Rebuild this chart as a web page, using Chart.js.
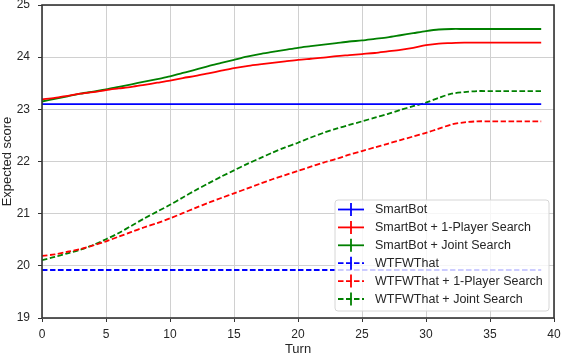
<!DOCTYPE html>
<html>
<head>
<meta charset="utf-8">
<script src="https://cdn.jsdelivr.net/npm/chart.js@4.4.0/dist/chart.umd.min.js"></script>
<style>
    html, body { margin: 0; padding: 0; background: #fff; }
    #wrap { width: 562px; height: 354px; }
</style>
</head>
<body>
<div id="wrap"><canvas id="chart"></canvas></div>
<script>
// Turn index (x) and expected score per series
const turns = [0, 1, 2, 3, 4, 5, 6, 7, 8, 9, 10, 11, 12, 13, 14, 15, 16, 17, 18, 19,
    20, 21, 22, 23, 24, 25, 26, 27, 28, 29, 30, 31, 32, 33, 34, 35, 36, 37, 38, 39];

const smartBot = [23.1, 23.1, 23.1, 23.1, 23.1, 23.1, 23.1, 23.1, 23.1, 23.1,
    23.1, 23.1, 23.1, 23.1, 23.1, 23.1, 23.1, 23.1, 23.1, 23.1,
    23.1, 23.1, 23.1, 23.1, 23.1, 23.1, 23.1, 23.1, 23.1, 23.1,
    23.1, 23.1, 23.1, 23.1, 23.1, 23.1, 23.1, 23.1, 23.1, 23.1];

const smartBot1P = [23.19, 23.22, 23.26, 23.30, 23.33, 23.37, 23.40, 23.43, 23.47, 23.51,
    23.55, 23.60, 23.64, 23.69, 23.74, 23.79, 23.83, 23.86, 23.89, 23.92,
    23.95, 23.97, 23.99, 24.02, 24.04, 24.06, 24.08, 24.11, 24.14, 24.18,
    24.23, 24.26, 24.27, 24.28, 24.28, 24.28, 24.28, 24.28, 24.28, 24.28];

const smartBotJoint = [23.15, 23.20, 23.25, 23.30, 23.34, 23.38, 23.43, 23.48, 23.53, 23.58,
    23.63, 23.70, 23.76, 23.83, 23.89, 23.95, 24.01, 24.06, 24.10, 24.14,
    24.18, 24.21, 24.24, 24.27, 24.30, 24.32, 24.35, 24.38, 24.42, 24.46,
    24.50, 24.53, 24.54, 24.54, 24.54, 24.54, 24.54, 24.54, 24.54, 24.54];

const wtfwThat = [19.92, 19.92, 19.92, 19.92, 19.92, 19.92, 19.92, 19.92, 19.92, 19.92,
    19.92, 19.92, 19.92, 19.92, 19.92, 19.92, 19.92, 19.92, 19.92, 19.92,
    19.92, 19.92, 19.92, 19.92, 19.92, 19.92, 19.92, 19.92, 19.92, 19.92,
    19.92, 19.92, 19.92, 19.92, 19.92, 19.92, 19.92, 19.92, 19.92, 19.92];

const wtfwThat1P = [20.19, 20.22, 20.27, 20.32, 20.39, 20.47, 20.56, 20.65, 20.74, 20.82,
    20.91, 21.01, 21.11, 21.21, 21.30, 21.39, 21.48, 21.57, 21.66, 21.74,
    21.82, 21.90, 21.98, 22.05, 22.13, 22.20, 22.27, 22.34, 22.41, 22.48,
    22.55, 22.63, 22.71, 22.75, 22.77, 22.77, 22.77, 22.77, 22.77, 22.77];

const wtfwThatJoint = [20.11, 20.17, 20.24, 20.31, 20.40, 20.51, 20.63, 20.77, 20.91, 21.04,
    21.17, 21.31, 21.45, 21.58, 21.71, 21.83, 21.95, 22.06, 22.17, 22.27,
    22.36, 22.46, 22.55, 22.63, 22.70, 22.77, 22.84, 22.91, 22.99, 23.06,
    23.13, 23.22, 23.30, 23.33, 23.35, 23.35, 23.35, 23.35, 23.35, 23.35];

const xTicks = [0, 5, 10, 15, 20, 25, 30, 35, 40];
const yTicks = [19, 20, 21, 22, 23, 24, 25];

const FONT = "'Liberation Sans', Arial, sans-serif";
const DASH = [5.5, 2.5];

function toPoints(values) {
    return turns.map((t, i) => ({ x: t, y: values[i] }));
}

function makeSeries(label, values, color, dashed) {
    return {
        label: label,
        data: toPoints(values),
        borderColor: color,
        backgroundColor: color,
        borderWidth: 1.8,
        borderDash: dashed ? DASH : [],
        pointRadius: 0,
        tension: 0.3,
        fill: false
    };
}

// Dark frame on all four sides of the plot area
const frame = {
    id: 'frame',
    afterDatasetsDraw(chart) {
        const { ctx, chartArea: a } = chart;
        ctx.save();
        ctx.strokeStyle = '#333';
        ctx.lineWidth = 1.6;
        ctx.strokeRect(a.left, a.top, a.right - a.left, a.bottom - a.top);
        ctx.restore();
    }
};

// Legend in the lower right corner, markers drawn as line + error-bar tick
const cornerLegend = {
    id: 'cornerLegend',
    afterDraw(chart) {
        const { ctx, chartArea: a } = chart;
        const w = 214, h = 111;
        const x0 = a.right - 5 - w;
        const y0 = a.bottom - 7 - h;

        ctx.save();
        ctx.beginPath();
        ctx.roundRect(x0, y0, w, h, 3);
        ctx.fillStyle = 'rgba(255,255,255,0.8)';
        ctx.fill();
        ctx.strokeStyle = '#d6d6d6';
        ctx.lineWidth = 1;
        ctx.stroke();

        ctx.font = '12.5px ' + FONT;
        ctx.textBaseline = 'middle';
        chart.data.datasets.forEach((ds, i) => {
            const y = y0 + 9.5 + i * 17.9;
            const lx0 = x0 + 3, lx1 = x0 + 29, mid = x0 + 16;
            ctx.strokeStyle = ds.borderColor;
            ctx.lineWidth = ds.borderWidth;
            ctx.setLineDash(ds.borderDash);
            ctx.beginPath();
            ctx.moveTo(lx0, y);
            ctx.lineTo(lx1, y);
            ctx.stroke();
            ctx.setLineDash([]);
            ctx.beginPath();
            ctx.moveTo(mid, y - 6.5);
            ctx.lineTo(mid, y + 6.5);
            ctx.stroke();
            ctx.fillStyle = '#262626';
            ctx.fillText(ds.label, x0 + 40, y + 0.5);
        });
        ctx.restore();
    }
};

const ctx = document.getElementById('chart');

new Chart(ctx, {
    type: 'line',
    data: {
        datasets: [
            makeSeries('SmartBot', smartBot, '#0000ff', false),
            makeSeries('SmartBot + 1-Player Search', smartBot1P, '#ff0000', false),
            makeSeries('SmartBot + Joint Search', smartBotJoint, '#008000', false),
            makeSeries('WTFWThat', wtfwThat, '#0000ff', true),
            makeSeries('WTFWThat + 1-Player Search', wtfwThat1P, '#ff0000', true),
            makeSeries('WTFWThat + Joint Search', wtfwThatJoint, '#008000', true)
        ]
    },
    options: {
        responsive: true,
        maintainAspectRatio: false,
        animation: false,
        layout: { padding: { top: 5, right: 8, left: 0, bottom: 0 } },
        plugins: {
            legend: { display: false },
            tooltip: { enabled: false }
        },
        scales: {
            x: {
                type: 'linear',
                min: 0,
                max: 40,
                afterBuildTicks: (scale) => { scale.ticks = xTicks.map(v => ({ value: v })); },
                afterFit: (scale) => {
                    scale.height = 36;
                    scale.paddingLeft = 0;
                    scale.paddingRight = 0;
                },
                ticks: { color: '#262626', font: { family: FONT, size: 12 }, padding: 5 },
                grid: { color: '#d0d0d0', lineWidth: 1, tickColor: '#333', tickLength: 4 },
                border: { display: false },
                title: {
                    display: true,
                    text: 'Turn',
                    color: '#262626',
                    font: { family: FONT, size: 13 },
                    padding: { top: 0, bottom: -3 }
                }
            },
            y: {
                min: 19,
                max: 25,
                afterBuildTicks: (scale) => { scale.ticks = yTicks.map(v => ({ value: v })); },
                afterFit: (scale) => {
                    scale.width = 42;
                    scale.paddingTop = 0;
                    scale.paddingBottom = 0;
                },
                ticks: { color: '#262626', font: { family: FONT, size: 12 }, padding: 8 },
                grid: { color: '#d0d0d0', lineWidth: 1, tickColor: '#333', tickLength: 4 },
                border: { display: false },
                title: {
                    display: true,
                    text: 'Expected score',
                    color: '#262626',
                    font: { family: FONT, size: 13 },
                    padding: { top: 0, bottom: 0 }
                }
            }
        }
    },
    plugins: [frame, cornerLegend]
});
</script>
</body>
</html>
